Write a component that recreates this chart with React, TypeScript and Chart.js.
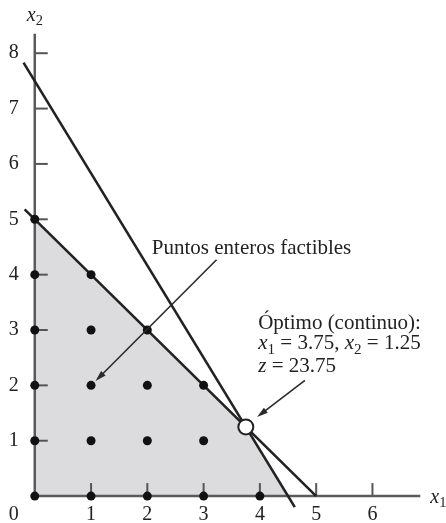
import React, { useEffect, useRef } from "react";
import { Chart, registerables } from "chart.js";

Chart.register(...registerables);

// ---- data ----
const xTickValues = [1, 2, 3, 4, 5, 6];
const yTickValues = [1, 2, 3, 4, 5, 6, 7, 8];
const xTickLabels = ["1", "2", "3", "4", "5", "6"];
const yTickLabels = ["1", "2", "3", "4", "5", "6", "7", "8"];
const originLabel = "0";

// feasible integer points
const feasibleX = [0, 0, 0, 0, 0, 0, 1, 1, 1, 1, 1, 2, 2, 2, 2, 3, 3, 3, 4];
const feasibleY = [0, 1, 2, 3, 4, 5, 0, 1, 2, 3, 4, 0, 1, 2, 3, 0, 1, 2, 0];

// constraint x1 + x2 = 5
const c1X = [-0.18, 5];
const c1Y = [5.18, 0];
// constraint 10x1 + 6x2 = 45
const c2X = [-0.2, 4.62];
const c2Y = [7.83, -0.2];

// feasible region boundary (filled down to x2 = 0)
const regionX = [0, 3.75, 4.5];
const regionY = [5, 1.25, 0];

// continuous optimum
const optX = [3.75];
const optY = [1.25];

// axes extents
const xAxisEnd = 6.85;
const yAxisEnd = 8.35;

const labelPuntos = "Puntos enteros factibles";
const labelOptimo = "Óptimo (continuo):";

const zip = (xs: number[], ys: number[]) => xs.map((x, i) => ({ x, y: ys[i] }));

const SERIF = '"Liberation Serif", "DejaVu Serif", serif';

type Run = { t: string; italic?: boolean; sub?: boolean };

function drawRuns(ctx: CanvasRenderingContext2D, runs: Run[], x: number, y: number, size: number) {
  let cx = x;
  ctx.textAlign = "left";
  ctx.textBaseline = "middle";
  for (const r of runs) {
    const s = r.sub ? size * 0.72 : size;
    ctx.font = `${r.italic ? "italic " : ""}${s}px ${SERIF}`;
    ctx.fillText(r.t, cx, y + (r.sub ? size * 0.28 : 0));
    cx += ctx.measureText(r.t).width;
  }
}

function drawArrow(ctx: CanvasRenderingContext2D, x0: number, y0: number, x1: number, y1: number) {
  const ang = Math.atan2(y1 - y0, x1 - x0);
  const len = 11;
  const hw = 3.2;
  ctx.save();
  ctx.strokeStyle = "#2a2a2a";
  ctx.fillStyle = "#2a2a2a";
  ctx.lineWidth = 1.6;
  ctx.beginPath();
  ctx.moveTo(x0, y0);
  ctx.lineTo(x1 - Math.cos(ang) * len * 0.8, y1 - Math.sin(ang) * len * 0.8);
  ctx.stroke();
  ctx.beginPath();
  ctx.moveTo(x1, y1);
  ctx.lineTo(x1 - Math.cos(ang) * len - Math.sin(ang) * hw, y1 - Math.sin(ang) * len + Math.cos(ang) * hw);
  ctx.lineTo(x1 - Math.cos(ang) * len + Math.sin(ang) * hw, y1 - Math.sin(ang) * len - Math.cos(ang) * hw);
  ctx.closePath();
  ctx.fill();
  ctx.restore();
}

const overlayPlugin = {
  id: "overlay",
  afterDatasetDraw(chart: any, args: any) {
    if (args.index !== 0) return;
    const ctx: CanvasRenderingContext2D = chart.ctx;
    const xs = chart.scales.x;
    const ys = chart.scales.y;
    const x0 = xs.getPixelForValue(0);
    const y0 = ys.getPixelForValue(0);
    ctx.save();
    ctx.strokeStyle = "#555";
    ctx.lineWidth = 2;
    const tickLen = 13;
    yTickValues.forEach((v) => {
      const py = ys.getPixelForValue(v);
      ctx.beginPath();
      ctx.moveTo(x0, py);
      ctx.lineTo(x0 + tickLen, py);
      ctx.stroke();
    });
    xTickValues.forEach((v) => {
      const px = xs.getPixelForValue(v);
      ctx.beginPath();
      ctx.moveTo(px, y0);
      ctx.lineTo(px, y0 - tickLen);
      ctx.stroke();
    });
    ctx.restore();
  },
  afterDatasetsDraw(chart: any) {
    const ctx: CanvasRenderingContext2D = chart.ctx;
    const xs = chart.scales.x;
    const ys = chart.scales.y;
    const X = (v: number) => xs.getPixelForValue(v);
    const Y = (v: number) => ys.getPixelForValue(v);
    const x0 = X(0);
    const y0 = Y(0);
    ctx.save();
    ctx.fillStyle = "#222";
    ctx.font = `20px ${SERIF}`;
    ctx.textAlign = "center";
    ctx.textBaseline = "middle";
    yTickValues.forEach((v, i) => ctx.fillText(yTickLabels[i], x0 - 21, Y(v)));
    xTickValues.forEach((v, i) => ctx.fillText(xTickLabels[i], X(v), y0 + 19));
    ctx.fillText(originLabel, x0 - 21, y0 + 19);

    // axis titles
    drawRuns(ctx, [{ t: "x", italic: true }, { t: "2", sub: true }], x0 - 8, Y(yAxisEnd) - 18, 20);
    drawRuns(ctx, [{ t: "x", italic: true }, { t: "1", sub: true }], X(xAxisEnd) + 10, y0 + 2, 20);

    // annotations
    ctx.fillStyle = "#222";
    drawRuns(ctx, [{ t: labelPuntos }], X(2.08), Y(4.48), 21);
    drawArrow(ctx, X(3.23), Y(4.27), X(1.08), Y(2.08));

    drawRuns(ctx, [{ t: labelOptimo }], X(3.97), Y(3.12), 21);
    drawRuns(
      ctx,
      [
        { t: "x", italic: true },
        { t: "1", sub: true },
        { t: " = 3.75, " },
        { t: "x", italic: true },
        { t: "2", sub: true },
        { t: " = 1.25" },
      ],
      X(3.97),
      Y(2.75),
      21
    );
    drawRuns(ctx, [{ t: "z", italic: true }, { t: " = 23.75" }], X(3.97), Y(2.34), 21);
    drawArrow(ctx, X(4.8), Y(2.09), X(3.95), Y(1.43));
    ctx.restore();
  },
};

export default function App() {
  const ref = useRef<HTMLCanvasElement | null>(null);
  useEffect(() => {
    if (!ref.current) return;
    const lineStyle = {
      type: "line" as const,
      showLine: true,
      pointRadius: 0,
      fill: false,
      clip: false as any,
    };
    const chart = new Chart(ref.current, {
      type: "scatter",
      data: {
        datasets: [
          {
            ...lineStyle,
            data: zip(regionX, regionY),
            fill: "origin",
            backgroundColor: "#dcdcde",
            borderWidth: 0,
            borderColor: "rgba(0,0,0,0)",
            order: 10,
          } as any,
          {
            ...lineStyle,
            data: [
              { x: 0, y: yAxisEnd },
              { x: 0, y: 0 },
              { x: xAxisEnd, y: 0 },
            ],
            borderColor: "#5a5a5a",
            borderWidth: 2.5,
            order: 5,
          } as any,
          {
            ...lineStyle,
            data: zip(c1X, c1Y),
            borderColor: "#222",
            borderWidth: 2.6,
            order: 4,
          } as any,
          {
            ...lineStyle,
            data: zip(c2X, c2Y),
            borderColor: "#222",
            borderWidth: 2.6,
            order: 4,
          } as any,
          {
            type: "scatter",
            data: zip(feasibleX, feasibleY),
            pointRadius: 4.5,
            pointBackgroundColor: "#111",
            pointBorderColor: "#111",
            pointBorderWidth: 0,
            order: 2,
            clip: false as any,
          } as any,
          {
            type: "scatter",
            data: zip(optX, optY),
            pointRadius: 7.5,
            pointBackgroundColor: "#fff",
            pointBorderColor: "#222",
            pointBorderWidth: 2,
            order: 1,
            clip: false as any,
          } as any,
        ],
      },
      options: {
        responsive: false,
        animation: false,
        devicePixelRatio: 1,
        layout: { autoPadding: false, padding: { left: 1, right: 6, top: 20, bottom: 2 } },
        scales: {
          x: { type: "linear", min: -0.6, max: 7.2, display: false },
          y: { type: "linear", min: -0.45, max: 8.6, display: false },
        },
        plugins: {
          legend: { display: false },
          tooltip: { enabled: false },
        },
      },
      plugins: [overlayPlugin],
    });
    return () => chart.destroy();
  }, []);
  return (
    <div style={{ position: "fixed", left: 0, top: 0, width: 446, height: 523, background: "#fff" }}>
      <canvas ref={ref} width={446} height={523} />
    </div>
  );
}
